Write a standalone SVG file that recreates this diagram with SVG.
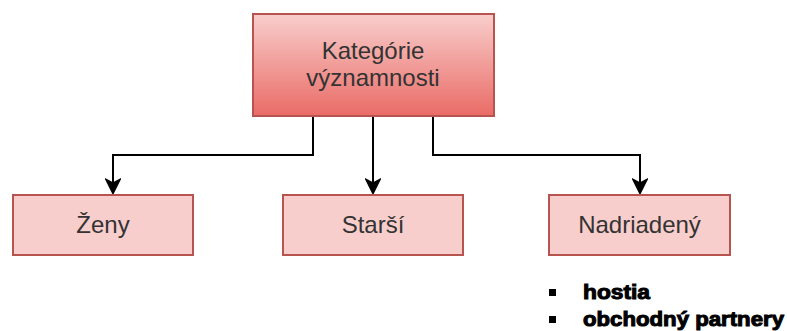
<svg xmlns="http://www.w3.org/2000/svg" width="787" height="331" viewBox="0 0 787 331">
<defs>
<linearGradient id="g" x1="0" y1="0" x2="0" y2="1">
<stop offset="0" stop-color="#f8cecc"/>
<stop offset="1" stop-color="#ea6b66"/>
</linearGradient>
<marker id="arr" markerWidth="16" markerHeight="18" refX="8" refY="16" orient="0" markerUnits="userSpaceOnUse">
<path d="M8,16 L1.5,3 L8,6.5 L14.5,3 Z" fill="#000" stroke="#000" stroke-width="2" stroke-linejoin="miter"/>
</marker>
</defs>
<style>
.box{fill:#f8cecc;stroke:#b85450;stroke-width:2}
.top{fill:url(#g);stroke:#b85450;stroke-width:2}
.lbl{font-family:"Liberation Sans",Arial,sans-serif;font-size:24px;fill:#333;text-anchor:middle}
.edge{fill:none;stroke:#000;stroke-width:2}
.bul{font-family:"Liberation Sans",Arial,sans-serif;font-size:20px;font-weight:bold;fill:#000;stroke:#000;stroke-width:1}
</style>
<g id="connectors">
<path class="edge" d="M313,116 V155 H113 V193" marker-end="url(#arr)"/>
<path class="edge" d="M373,116 V193" marker-end="url(#arr)"/>
<path class="edge" d="M433,116 V155 H640 V193" marker-end="url(#arr)"/>
</g>
<g id="kategorie">
<rect class="top" x="253" y="14" width="241" height="102"/>
<text class="lbl" x="373" y="59">Kategórie</text>
<text class="lbl" x="373" y="86">významnosti</text>
</g>
<g id="zeny">
<rect class="box" x="13" y="195" width="180" height="60"/>
<text class="lbl" x="103" y="233">Ženy</text>
</g>
<g id="starsi">
<rect class="box" x="283" y="195" width="180" height="60"/>
<text class="lbl" x="373" y="233">Starší</text>
</g>
<g id="nadriadeny">
<rect class="box" x="549" y="195" width="181" height="60"/>
<text class="lbl" x="639.5" y="233">Nadriadený</text>
</g>
<g id="bullets">
<rect x="549" y="289" width="7" height="7" fill="#000"/>
<text class="bul" x="583" y="299" textLength="67" lengthAdjust="spacingAndGlyphs">hostia</text>
<rect x="549" y="316" width="7" height="7" fill="#000"/>
<text class="bul" x="583" y="326" textLength="201" lengthAdjust="spacingAndGlyphs">obchodný partnery</text>
</g>
</svg>
